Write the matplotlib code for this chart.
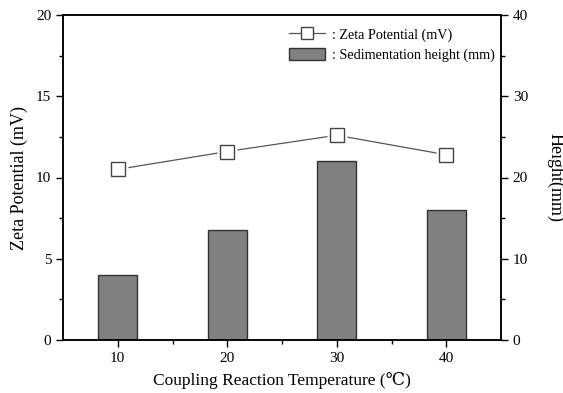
import matplotlib
matplotlib.use("Agg")
import matplotlib.pyplot as plt
from matplotlib.lines import Line2D
from matplotlib.patches import Patch

plt.rcParams['font.family'] = ['Liberation Serif', 'DejaVu Serif']

temps = [10, 20, 30, 40]
zeta = [10.5, 11.6, 12.6, 11.4]
height_mm = [8, 13.5, 22, 16]

fig = plt.figure(figsize=(5.63, 3.93), dpi=100)
ax = fig.add_axes([63/563, 53/393, 438/563, 325/393])
ax2 = ax.twinx()

ax2.bar(temps, height_mm, width=3.55, color='#808080', edgecolor='#333333', linewidth=1.0, zorder=2)

ax.set_zorder(ax2.get_zorder() + 1)
ax.patch.set_visible(False)
ax.plot(temps, zeta, color='#555555', linewidth=0.9, zorder=3)
ax.plot(temps, zeta, linestyle='none', marker='s', markersize=15, markerfacecolor='white',
        markeredgecolor='none', zorder=4)
ax.plot(temps, zeta, linestyle='none', marker='s', markersize=10, markerfacecolor='white',
        markeredgecolor='#444444', markeredgewidth=1.0, zorder=5)

ax.set_xlim(5, 45)
ax.set_ylim(0, 20)
ax2.set_ylim(0, 40)
ax.set_xticks(temps)
ax.set_xticks([15, 25, 35], minor=True)
ax.set_yticks([0, 5, 10, 15, 20])
ax.set_yticks([2.5, 7.5, 12.5, 17.5], minor=True)
ax2.set_yticks([0, 10, 20, 30, 40])
ax2.set_yticks([5, 15, 25, 35], minor=True)

for a in (ax, ax2):
    a.tick_params(which='major', length=5, width=1.0, labelsize=11, direction='out')
    a.tick_params(which='minor', length=3, width=1.0, direction='out')
    for s in a.spines.values():
        s.set_linewidth(1.1)
ax.tick_params(axis='x', top=False, which='both')
ax.tick_params(axis='y', right=False, which='both')
ax2.tick_params(axis='x', top=False, bottom=False, which='both')

ax.set_xlabel('Coupling Reaction Temperature (\u2103)', fontsize=12.5, labelpad=5)
ax.set_ylabel('Zeta Potential (mV)', fontsize=13, labelpad=6)
ax2.set_ylabel('Height(mm)', fontsize=13, rotation=270, labelpad=26)

h1 = Line2D([0], [0], color='#555555', linewidth=0.9, marker='s', markersize=8,
            markerfacecolor='white', markeredgecolor='#444444')
h2 = Patch(facecolor='#808080', edgecolor='#333333')
ax.legend([h1, h2], [': Zeta Potential (mV)', ': Sedimentation height (mm)'],
          loc='upper right', bbox_to_anchor=(1.015, 1.0), frameon=False, fontsize=10.2,
          handlelength=2.5, handleheight=0.9,
          handletextpad=0.5, borderaxespad=0.5, labelspacing=0.45)

fig.savefig('out.png', dpi=100)
